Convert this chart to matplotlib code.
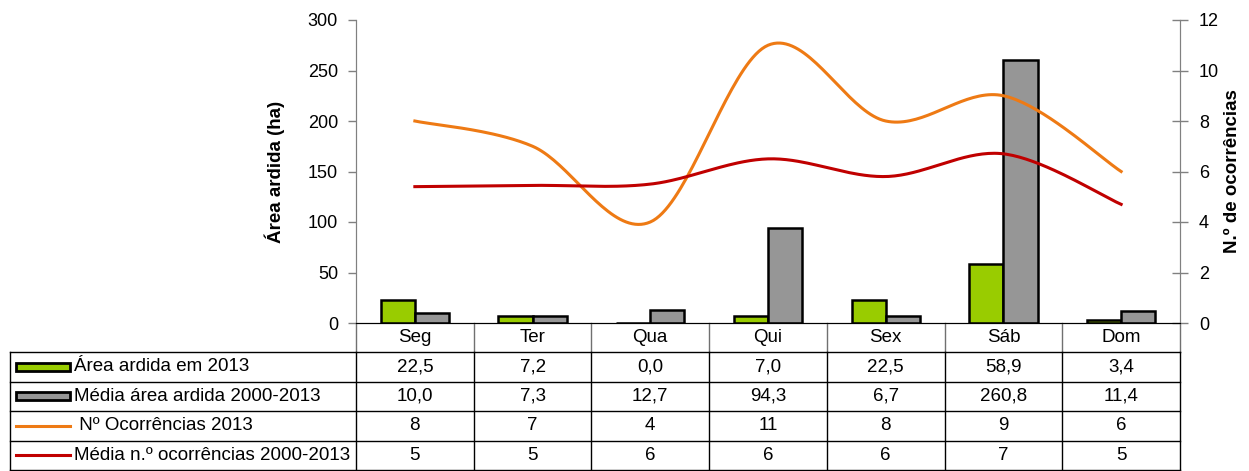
"""Área ardida e n.º de ocorrências por dia da semana (2013 vs média 2000-2013)."""

import numpy as np
import matplotlib.pyplot as plt
from matplotlib.patches import Rectangle
from matplotlib.lines import Line2D

plt.rcParams['font.family'] = ['Liberation Sans', 'DejaVu Sans']

dias = ['Seg', 'Ter', 'Qua', 'Qui', 'Sex', 'Sáb', 'Dom']
area_2013 = [22.5, 7.2, 0.0, 7.0, 22.5, 58.9, 3.4]
area_media = [10.0, 7.3, 12.7, 94.3, 6.7, 260.8, 11.4]
ocorr_2013 = [8, 7, 4, 11, 8, 9, 6]
ocorr_media = [5.4, 5.45, 5.5, 6.5, 5.8, 6.7, 4.7]

series_nomes = ['Área ardida em 2013', 'Média área ardida 2000-2013',
                ' Nº Ocorrências 2013', 'Média n.º ocorrências 2000-2013']

VERDE = '#99CC00'
CINZA = '#969696'
LARANJA = '#EE7A14'
VERMELHO = '#C00000'
FS_TAB = 13.5
FS_TICK = 13


def fmt_pt(v, dec):
    return f'{v:.{dec}f}'.replace('.', ',')


def smooth(y, n=40):
    # curva suavizada tipo Excel (Bezier com tangentes Catmull-Rom)
    y = np.asarray(y, dtype=float)
    x = np.arange(len(y), dtype=float)
    px = np.concatenate([[x[0]], x, [x[-1]]])
    py = np.concatenate([[y[0]], y, [y[-1]]])
    xs, ys = [], []
    t = np.linspace(0, 1, n)
    for i in range(1, len(px) - 2):
        p0 = np.array([px[i], py[i]])
        p3 = np.array([px[i + 1], py[i + 1]])
        p1 = p0 + (np.array([px[i + 1], py[i + 1]]) - np.array([px[i - 1], py[i - 1]])) / 6
        p2 = p3 - (np.array([px[i + 2], py[i + 2]]) - np.array([px[i], py[i]])) / 6
        b = ((1 - t) ** 3)[:, None] * p0 + (3 * (1 - t) ** 2 * t)[:, None] * p1 \
            + (3 * (1 - t) * t ** 2)[:, None] * p2 + (t ** 3)[:, None] * p3
        xs.append(b[:, 0])
        ys.append(b[:, 1])
    return np.concatenate(xs), np.concatenate(ys)


W, H = 1249, 471
fig = plt.figure(figsize=(W / 100, H / 100), dpi=100)
L, R, T, B = 356, 1180, 20, 323
ax = fig.add_axes([L / W, 1 - B / H, (R - L) / W, (B - T) / H])
ax2 = ax.twinx()

x = np.arange(len(dias))
bw = 0.29
ax.bar(x - bw / 2, area_2013, bw, color=VERDE, edgecolor='black', linewidth=1.8, zorder=2)
ax.bar(x + bw / 2, area_media, bw, color=CINZA, edgecolor='black', linewidth=1.8, zorder=2)

sx, sy = smooth(ocorr_2013)
ax2.plot(sx, sy, color=LARANJA, linewidth=2.2)
sx, sy = smooth(ocorr_media)
ax2.plot(sx, sy, color=VERMELHO, linewidth=2.2)

ax.set_xlim(-0.5, len(dias) - 0.5)
ax.set_ylim(0, 300)
ax.set_yticks(range(0, 301, 50))
ax2.set_ylim(0, 12)
ax2.set_yticks(range(0, 13, 2))
ax.set_xticks([])

for a in (ax, ax2):
    a.spines['top'].set_visible(False)
    a.spines['bottom'].set_color('black')
    a.spines['left'].set_color('#808080')
    a.spines['right'].set_color('#808080')
    a.tick_params(axis='y', labelsize=FS_TICK, colors='#808080', labelcolor='black',
                  length=6, width=1, pad=7)
ax2.tick_params(axis='y', direction='inout', length=11, pad=8)
ax.set_ylabel('Área ardida (ha)', fontsize=13.5, fontweight='bold', labelpad=16)
ax2.set_ylabel('N.º de ocorrências', fontsize=13.5, fontweight='bold', labelpad=4)

# tabela de dados por baixo do gráfico
ncol = len(dias)
cw = 1 / ncol
ph = B - T
hdr = 29 / ph
rh = 29.5 / ph
xl = (10 - L) / (R - L)
tr = ax.transAxes
kw = dict(transform=tr, clip_on=False, zorder=5)

# cabeçalho
for i, d in enumerate(dias):
    ax.text((i + 0.5) * cw, -hdr / 2, d, ha='center', va='center', fontsize=FS_TAB, **kw)
for i in range(ncol + 1):
    ax.add_line(Line2D([i * cw, i * cw], [0, -hdr], color='#707070', lw=1, **kw))

rows = [
    [fmt_pt(v, 1) for v in area_2013],
    [fmt_pt(v, 1) for v in area_media],
    [fmt_pt(v, 0) for v in ocorr_2013],
    [fmt_pt(v, 0) for v in ocorr_media],
]
y_top = -hdr
n = len(rows)
y_bot = y_top - n * rh
for r in range(n + 1):
    yy = y_top - r * rh
    ax.add_line(Line2D([xl, 1], [yy, yy], color='black', lw=1, **kw))
for i in range(ncol + 1):
    ax.add_line(Line2D([i * cw, i * cw], [y_top, y_bot], color='black', lw=1, **kw))
ax.add_line(Line2D([xl, xl], [y_top, y_bot], color='black', lw=1, **kw))

for r, vals in enumerate(rows):
    yc = y_top - (r + 0.5) * rh
    for i, v in enumerate(vals):
        ax.text((i + 0.5) * cw, yc, v, ha='center', va='center', fontsize=FS_TAB, **kw)
    ax.text(xl + 64 / (R - L), yc, series_nomes[r], ha='left', va='center',
            fontsize=FS_TAB, **kw)

# símbolos de legenda na primeira coluna
kx0 = xl + 6 / (R - L)
kw_px = 54 / (R - L)
kh = 8 / ph
for r, c in enumerate([VERDE, CINZA]):
    yc = y_top - (r + 0.5) * rh
    ax.add_patch(Rectangle((kx0, yc - kh / 2), kw_px, kh, facecolor=c,
                           edgecolor='black', linewidth=2, **kw))
for r, c in [(2, LARANJA), (3, VERMELHO)]:
    yc = y_top - (r + 0.5) * rh
    ax.add_line(Line2D([kx0, kx0 + kw_px], [yc, yc], color=c, lw=2.2, **kw))

fig.savefig('out.png', dpi=100)
plt.close()
